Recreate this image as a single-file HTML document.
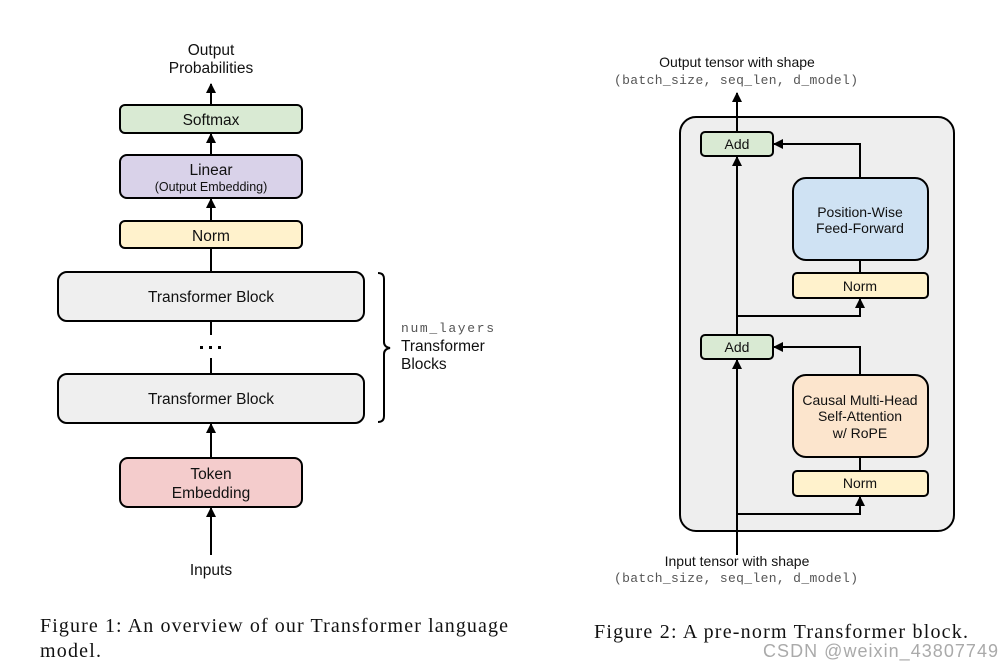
<!DOCTYPE html>
<html><head><meta charset="utf-8"><style>
html,body{margin:0;padding:0;background:#fff;width:1002px;height:668px;overflow:hidden}
svg{display:block}
.s{font-family:"Liberation Sans",sans-serif;fill:#111}
.m{font-family:"Liberation Mono",monospace;fill:#555}
.r{font-family:"Liberation Serif",serif;fill:#111}
</style></head><body>
<svg width="1002" height="668" viewBox="0 0 1002 668" xmlns="http://www.w3.org/2000/svg">
<defs><marker id="a" markerWidth="10" markerHeight="10" refX="9" refY="5" orient="auto" markerUnits="userSpaceOnUse"><path d="M0,0 L10,5 L0,10 z" fill="#000"/></marker></defs>
<g stroke="#000" stroke-width="2" fill="none">
<line x1="211" y1="105" x2="211" y2="84" marker-end="url(#a)"/>
<line x1="211" y1="155" x2="211" y2="134" marker-end="url(#a)"/>
<line x1="211" y1="221" x2="211" y2="199" marker-end="url(#a)"/>
<line x1="211" y1="248" x2="211" y2="272"/>
<line x1="211" y1="321" x2="211" y2="335"/>
<line x1="211" y1="358" x2="211" y2="374"/>
<line x1="211" y1="458" x2="211" y2="424" marker-end="url(#a)"/>
<line x1="211" y1="555" x2="211" y2="508" marker-end="url(#a)"/>
</g>
<g stroke="#000" stroke-width="2">
<rect x="120" y="105" width="182" height="28" rx="5" fill="#d9ead3"/>
<rect x="120" y="155" width="182" height="43" rx="7" fill="#d9d2e9"/>
<rect x="120" y="221" width="182" height="27" rx="5" fill="#fff2cc"/>
<rect x="58" y="272" width="306" height="49" rx="9" fill="#efefef"/>
<rect x="58" y="374" width="306" height="49" rx="9" fill="#efefef"/>
<rect x="120" y="458" width="182" height="49" rx="8" fill="#f4cccc"/>
</g>
<path d="M378,273 Q384,273 384,279 L384,342 Q384,347 390,348 Q384,349 384,354 L384,416 Q384,422 378,422" stroke="#000" stroke-width="2" fill="none"/>
<g fill="#000"><rect x="200" y="346" width="3" height="3"/><rect x="209" y="346" width="3" height="3"/><rect x="218" y="346" width="3" height="3"/></g>
<g class="s" font-size="15.5" text-anchor="middle">
<text x="211" y="55">Output</text>
<text x="211" y="73">Probabilities</text>
<text x="211" y="125">Softmax</text>
<text x="211" y="175">Linear</text>
<text x="211" y="191" font-size="12.5">(Output Embedding)</text>
<text x="211" y="241">Norm</text>
<text x="211" y="302">Transformer Block</text>
<text x="211" y="404">Transformer Block</text>
<text x="211" y="479">Token</text>
<text x="211" y="498">Embedding</text>
<text x="211" y="575">Inputs</text>
</g>
<text class="m" x="401" y="332" font-size="13" textLength="93">num_layers</text>
<text class="s" x="401" y="351" font-size="15.5">Transformer</text>
<text class="s" x="401" y="369" font-size="15.5">Blocks</text>
<rect x="680" y="117" width="274" height="414" rx="16" fill="#eeeeee" stroke="#000" stroke-width="2"/>
<g stroke="#000" stroke-width="2" fill="none">
<line x1="737" y1="132" x2="737" y2="93" marker-end="url(#a)"/>
<polyline points="860,178 860,144 774,144" marker-end="url(#a)"/>
<line x1="860" y1="260" x2="860" y2="273"/>
<line x1="737" y1="335" x2="737" y2="157" marker-end="url(#a)"/>
<polyline points="737,316 860,316 860,299" marker-end="url(#a)"/>
<polyline points="860,375 860,347 774,347" marker-end="url(#a)"/>
<line x1="860" y1="457" x2="860" y2="471"/>
<line x1="737" y1="555" x2="737" y2="360" marker-end="url(#a)"/>
<polyline points="737,514 860,514 860,497" marker-end="url(#a)"/>
</g>
<g stroke="#000" stroke-width="2">
<rect x="701" y="132" width="72" height="24" rx="4" fill="#d9ead3"/>
<rect x="793" y="178" width="135" height="82" rx="13" fill="#cfe2f3"/>
<rect x="793" y="273" width="135" height="25" rx="4" fill="#fff2cc"/>
<rect x="701" y="335" width="72" height="24" rx="4" fill="#d9ead3"/>
<rect x="793" y="375" width="135" height="82" rx="13" fill="#fce5cd"/>
<rect x="793" y="471" width="135" height="25" rx="4" fill="#fff2cc"/>
</g>
<g class="s" font-size="14" text-anchor="middle">
<text x="737" y="67">Output tensor with shape</text>
<text x="737" y="149">Add</text>
<text x="860" y="217">Position-Wise</text>
<text x="860" y="233">Feed-Forward</text>
<text x="860" y="291">Norm</text>
<text x="737" y="352">Add</text>
<text x="860" y="405">Causal Multi-Head</text>
<text x="860" y="421">Self-Attention</text>
<text x="860" y="438">w/ RoPE</text>
<text x="860" y="488">Norm</text>
<text x="737" y="566">Input tensor with shape</text>
</g>
<text class="m" x="614" y="84" font-size="13" textLength="244">(batch_size, seq_len, d_model)</text>
<text class="m" x="614" y="582" font-size="13" textLength="244">(batch_size, seq_len, d_model)</text>
<g class="r" font-size="20">
<text x="40" y="632" textLength="468">Figure 1: An overview of our Transformer language</text>
<text x="40" y="657" textLength="61">model.</text>
<text x="594" y="638" textLength="374">Figure 2: A pre-norm Transformer block.</text>
</g>
<text x="763" y="657" font-family="Liberation Sans,sans-serif" font-size="18" fill="#aaa" textLength="235">CSDN @weixin_43807749</text>
</svg>
</body></html>
